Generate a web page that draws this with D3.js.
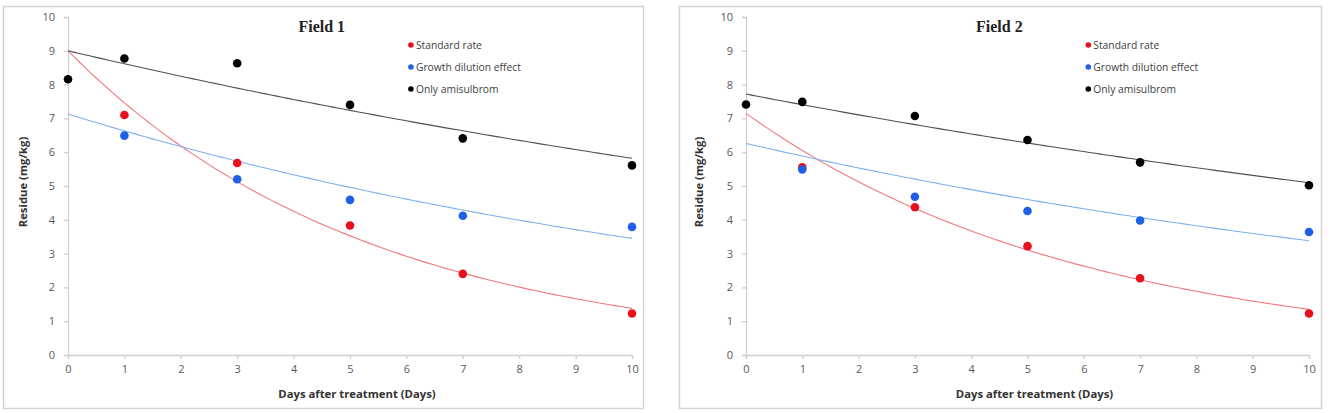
<!DOCTYPE html>
<html lang="en">
<head>
    <meta charset="UTF-8">
    <title>Residue decline</title>
    <script src="https://d3js.org/d3.v7.min.js"></script>
    <style>
      body{ margin:0; background:#fff; }
      svg text{ font-family:"Open Sans", "Noto Sans", sans-serif; }
    </style>
</head>
<body>
    <script>
        // data
        const days = [0, 1, 3, 5, 7, 10];
        const seriesNames = ["Standard rate", "Growth dilution effect", "Only amisulbrom"];
        const seriesColors = ["#e8101c", "#1e5fe6", "#000000"];
        const lineColors = ["#f07a80", "#7fb0ec", "#505050"];
        const fieldTitles = ["Field 1", "Field 2"];

        const field1Standard = [null, 7.10, 5.68, 3.83, 2.40, 1.23];
        const field1Growth   = [null, 6.49, 5.20, 4.59, 4.12, 3.79];
        const field1Only     = [8.16, 8.77, 8.63, 7.40, 6.41, 5.61];
        const field2Standard = [null, 5.55, 4.37, 3.22, 2.27, 1.23];
        const field2Growth   = [null, 5.49, 4.68, 4.26, 3.98, 3.64];
        const field2Only     = [7.41, 7.49, 7.07, 6.36, 5.70, 5.02];

        // exponential trend lines y = a * exp(-b * x), one per series
        const field1FitA = [9.00, 7.13, 9.00];
        const field1FitB = [0.1875, 0.0726, 0.0436];
        const field2FitA = [7.15, 6.26, 7.72];
        const field2FitB = [0.1667, 0.0616, 0.0415];

        const xTicks = [0, 1, 2, 3, 4, 5, 6, 7, 8, 9, 10];
        const yTicks = [0, 1, 2, 3, 4, 5, 6, 7, 8, 9, 10];

        const fields = [
            {title: fieldTitles[0], values: [field1Standard, field1Growth, field1Only], a: field1FitA, b: field1FitB},
            {title: fieldTitles[1], values: [field2Standard, field2Growth, field2Only], a: field2FitA, b: field2FitB}
        ];

        const width = 1335, height = 413;
        const svg = d3.select("body").append("svg")
            .attr("width", width)
            .attr("height", height);

        const panels = [
            {left: 3, right: 643, x0: 68, x1: 632},
            {left: 679, right: 1321, x0: 746, x1: 1309}
        ];
        const plotTop = 17, plotBottom = 355;

        fields.forEach(function(field, p){
            const pan = panels[p];
            const g = svg.append("g");

            g.append("rect")
                .attr("x", pan.left + 0.5).attr("y", 6.5)
                .attr("width", pan.right - pan.left).attr("height", 402)
                .style("fill", "#fff")
                .style("stroke", "#d4d4d4")
                .style("stroke-width", 1.5);

            const x = d3.scaleLinear().domain([0, 10]).range([pan.x0, pan.x1]);
            const y = d3.scaleLinear().domain([0, 10]).range([plotBottom, plotTop]);

            const yAxis = g.append("g")
                .attr("transform", `translate(${pan.x0},0)`)
                .call(d3.axisLeft(y).tickValues(yTicks).tickSize(4).tickPadding(9));
            const xAxis = g.append("g")
                .attr("transform", `translate(0,${plotBottom})`)
                .call(d3.axisBottom(x).tickValues(xTicks).tickSize(4).tickPadding(6));
            [xAxis, yAxis].forEach(function(ax){
                ax.select(".domain").style("stroke", "#d0d0d0").style("stroke-width", 1.3);
                ax.selectAll(".tick line").style("stroke", "#d0d0d0").style("stroke-width", 1.3);
                ax.selectAll(".tick text")
                    .style("fill", "#595959")
                    .style("font-size", "11px")
                    .style("font-family", "'Open Sans', sans-serif");
            });

            // trend lines
            const xs = d3.range(0, 10.001, 0.1);
            field.a.forEach(function(a, i){
                const b = field.b[i];
                g.append("path")
                    .datum(xs)
                    .attr("d", d3.line().x(d => x(d)).y(d => y(a * Math.exp(-b * d))))
                    .style("fill", "none")
                    .style("stroke", lineColors[i])
                    .style("stroke-width", 1.1);
            });

            // points
            field.values.forEach(function(vals, i){
                const pts = days.map((d, k) => [d, vals[k]]).filter(d => d[1] !== null);
                g.selectAll(".s" + i)
                    .data(pts)
                    .join("circle")
                    .attr("class", "s" + i)
                    .attr("cx", d => x(d[0]))
                    .attr("cy", d => y(d[1]))
                    .attr("r", 4.3)
                    .style("fill", seriesColors[i]);
            });

            // title
            g.append("text")
                .attr("x", pan.x0 + (pan.x1 - pan.x0) * 0.45)
                .attr("y", 32)
                .attr("text-anchor", "middle")
                .style("font-family", "'Liberation Serif', serif")
                .style("font-weight", "bold")
                .style("font-size", "16px")
                .style("fill", "#222")
                .text(field.title);

            // legend
            const lx = pan.x0 + (pan.x1 - pan.x0) * 0.608;
            seriesNames.forEach(function(name, i){
                g.append("circle")
                    .attr("cx", lx).attr("cy", 45 + i * 22)
                    .attr("r", 2.8)
                    .style("fill", seriesColors[i]);
                g.append("text")
                    .attr("x", lx + 5).attr("y", 45 + i * 22)
                    .attr("dy", "0.35em")
                    .style("font-size", "10.3px")
                    .style("fill", "#404040")
                    .text(name);
            });

            // axis titles
            g.append("text")
                .attr("x", (pan.x0 + pan.x1) / 2 + 7)
                .attr("y", 398)
                .attr("text-anchor", "middle")
                .style("font-weight", "bold")
                .style("font-size", "11.3px")
                .style("fill", "#333")
                .text("Days after treatment (Days)");
            g.append("text")
                .attr("transform", `translate(${pan.left + 20},182) rotate(-90)`)
                .attr("text-anchor", "middle")
                .attr("dy", "0.35em")
                .style("font-weight", "bold")
                .style("font-size", "11.3px")
                .style("fill", "#333")
                .text("Residue (mg/kg)");
        });
    </script>
</body>
</html>
